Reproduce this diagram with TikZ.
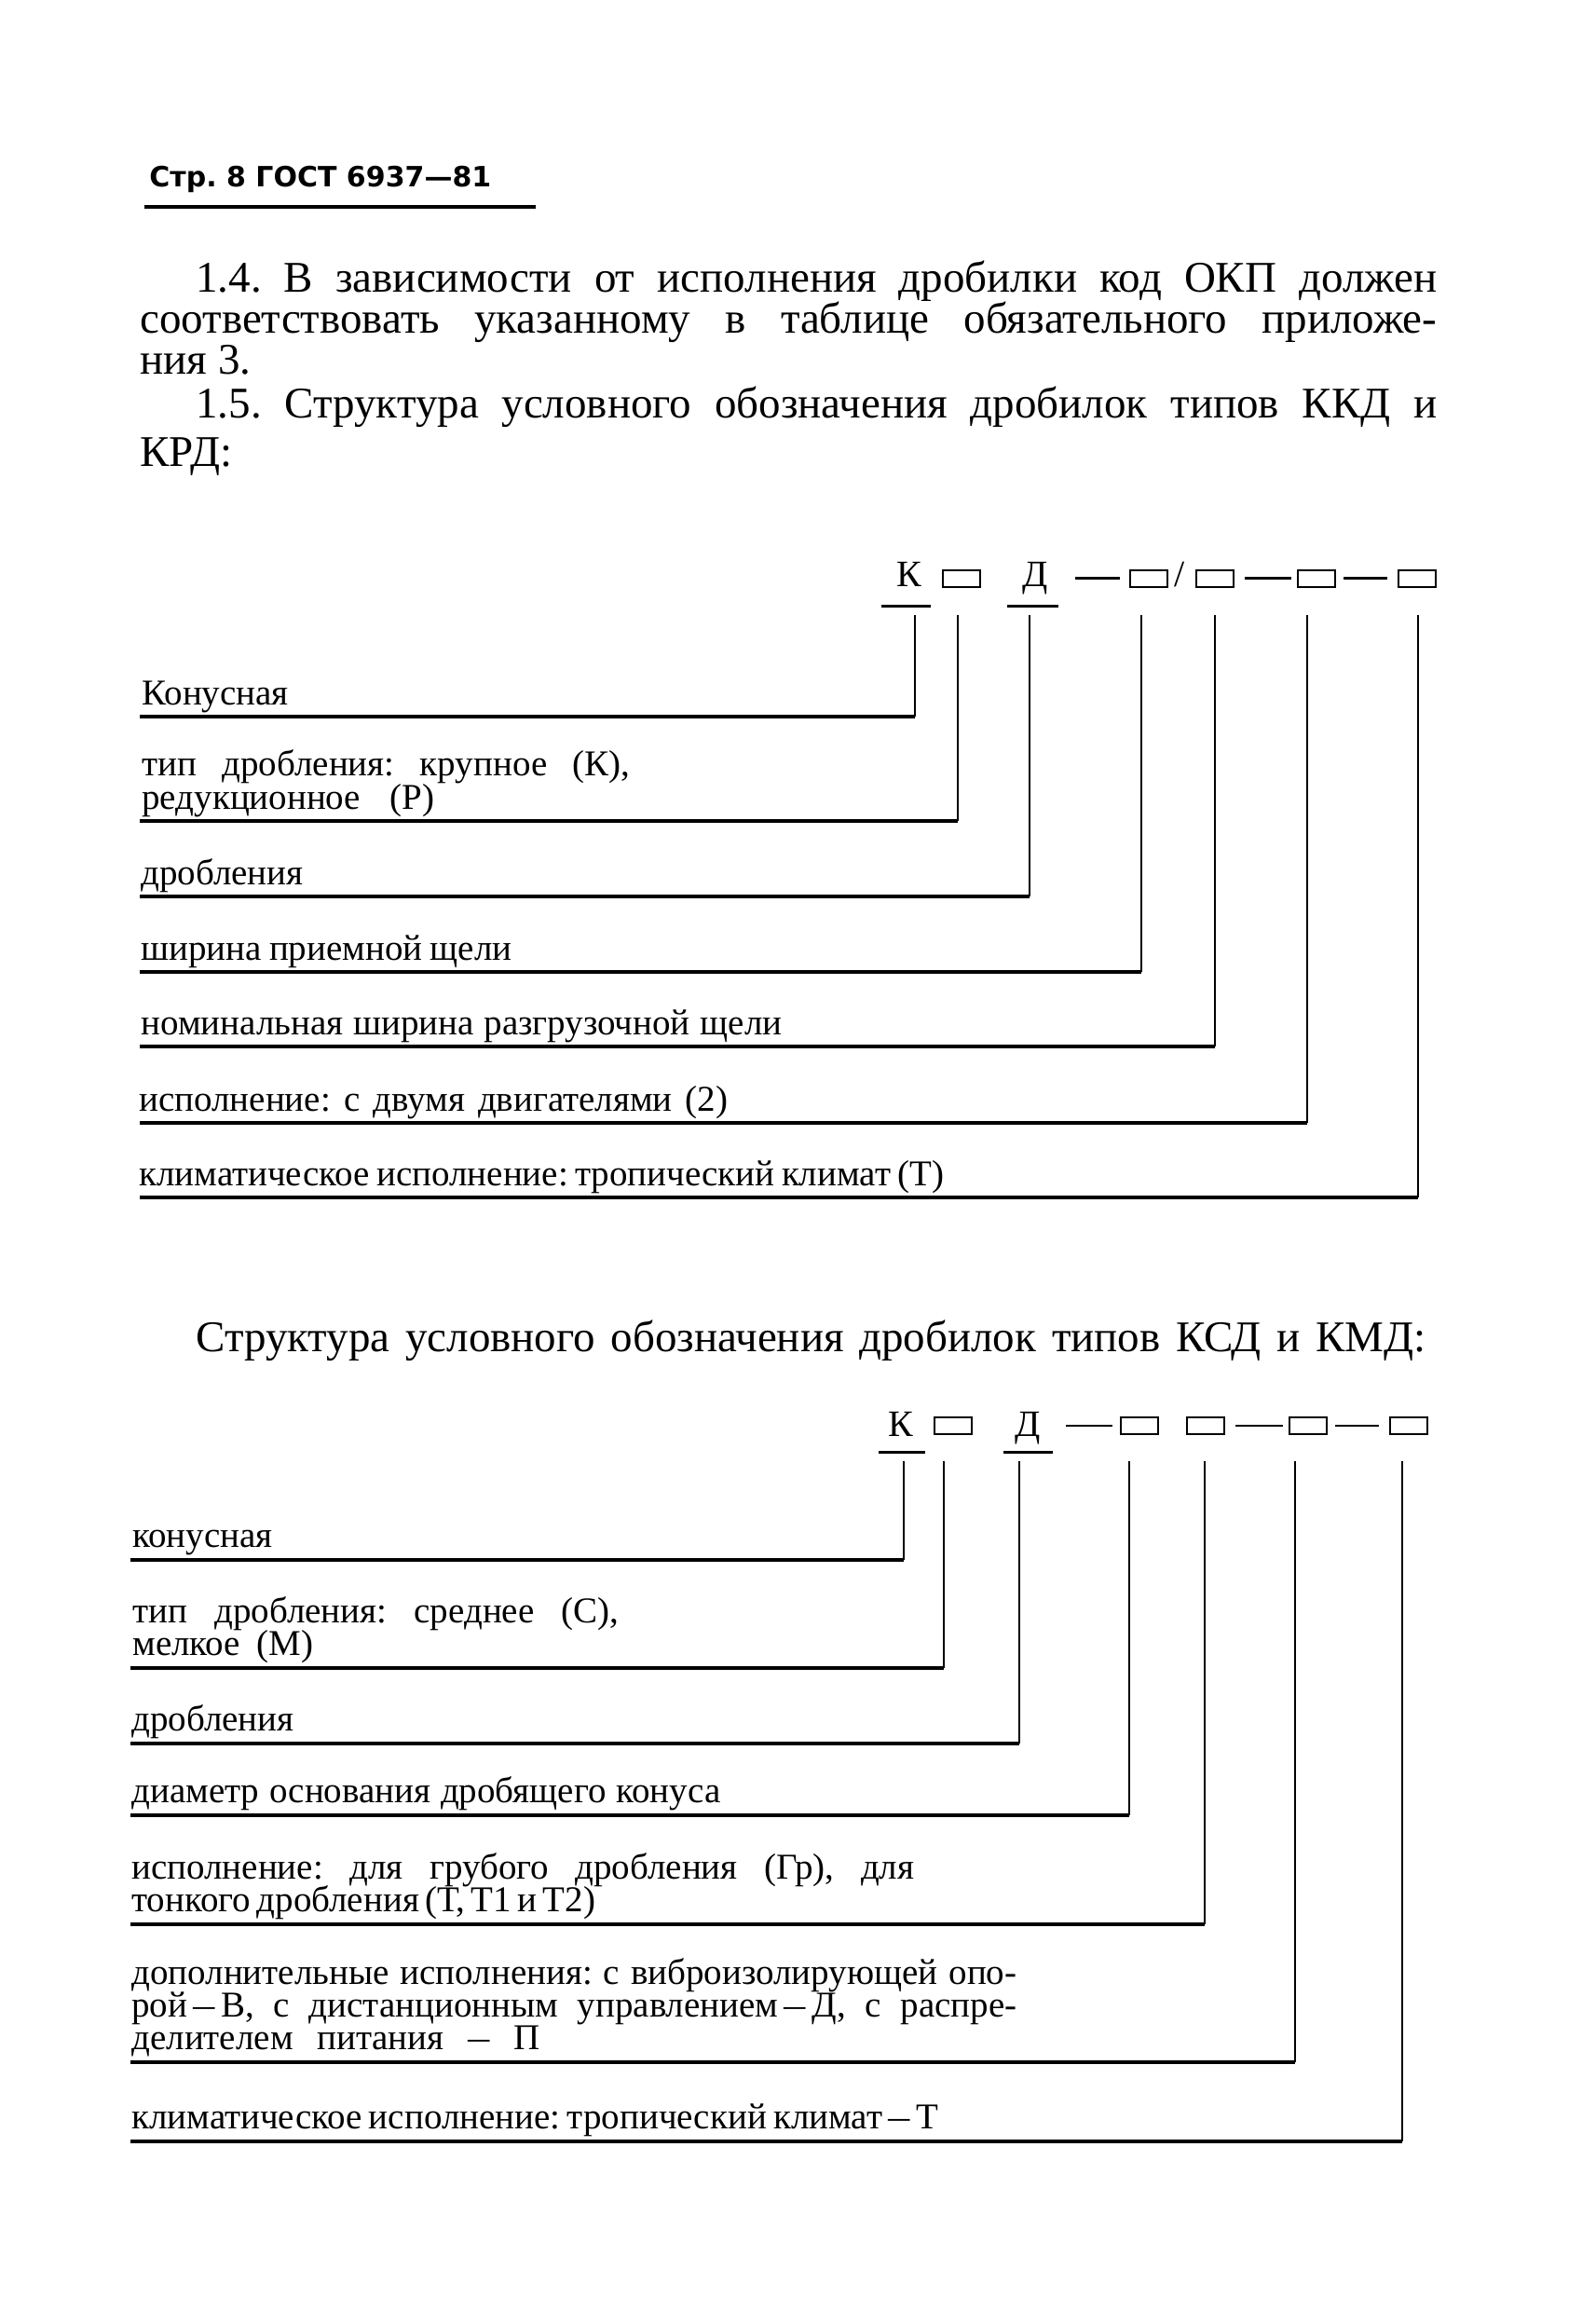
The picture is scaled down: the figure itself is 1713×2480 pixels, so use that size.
\documentclass[tikz,border=0pt]{standalone}
\usepackage{fontspec}
\usepackage{graphicx}
\setmainfont{Liberation Serif}
\newfontfamily\hdrfont{DejaVu Sans}
\usetikzlibrary{calc}
\newcommand{\jl}[2]{\makebox[#1][s]{#2}}
\newcommand{\dsh}{\scalebox{0.6}[1]{—}}
\begin{document}
\frenchspacing
\begin{tikzpicture}[x=0.5pt,y=-0.5pt,
  hdr/.style={anchor=base west,inner sep=0pt,font=\hdrfont\bfseries\fontsize{15}{16}\selectfont},
  para/.style={anchor=base west,inner sep=0pt,font=\fontsize{23.5}{22}\selectfont},
  lbl/.style={anchor=base west,inner sep=0pt,font=\fontsize{19.5}{18}\selectfont},
  code/.style={anchor=base,inner sep=0pt,font=\fontsize{20}{20}\selectfont},
  cbox/.style={draw,line width=1pt,minimum width=20pt,minimum height=9pt,inner sep=0pt},
  cdash/.style={line width=1.3pt},
  hline/.style={line width=1.8pt},
  vline/.style={line width=1.2pt},
  uline/.style={line width=1.5pt}]
\fill[white] (0,0) rectangle (1713,2480);
\useasboundingbox (0,0) rectangle (1713,2480);

% header
\node[hdr] (hdr) at (160,200) {Стр. 8 ГОСТ 6937—81};
\coordinate (hul) at (155,222); \coordinate (hur) at (575,222);
\draw[line width=2.2pt] (hul) -- (hur);

% paragraph
\node[para] (p1) at (210,313) {\jl{666pt}{1.4. В зависимости от исполнения дробилки код ОКП должен}};
\node[para] (p2) at (150,357) {\jl{696pt}{соответствовать указанному в таблице обязательного приложе-}};
\node[para] (p3) at (150,401) {ния 3.};
\node[para] (p4) at (210,448) {\jl{666pt}{1.5. Структура условного обозначения дробилок типов ККД и}};
\node[para] (p5) at (150,500) {КРД:};

% ---------- section 1 code line
\node[code] (k1) at (976,629) {К};
\node[cbox] (b11) at (1032,620.5) {};
\node[code] (d1) at (1111,629) {Д};
\node[cbox] (b12) at (1233,620.5) {};
\node[code] (sl1) at (1266,629) {/};
\node[cbox] (b13) at (1304,620.5) {};
\node[cbox] (b14) at (1413,620.5) {};
\node[cbox] (b15) at (1521,620.5) {};
\draw[cdash] ($(b12.west)+(-58,0)$) -- ($(b12.west)+(-10,0)$);
\draw[cdash,shorten <=5.5pt,shorten >=3pt] (b13.east) -- (b14.west);
\draw[cdash,shorten <=4pt,shorten >=5.5pt] (b14.east) -- (b15.west);
\coordinate (uk1a) at (946,650); \coordinate (uk1b) at (999,650);
\coordinate (ud1a) at (1081,650); \coordinate (ud1b) at (1136,650);
\draw[uline] (uk1a) -- (uk1b);
\draw[uline] (ud1a) -- (ud1b);

% section 1 leaders
\foreach \i/\x/\y in {1/982/769,2/1028/881,3/1105/962,4/1225/1043,5/1304/1123,6/1403/1205,7/1522/1285}{
  \coordinate (s1t\i) at (\x,660);
  \coordinate (s1c\i) at (\x,\y);
  \coordinate (s1l\i) at (150,\y);
  \draw[vline] (s1t\i) -- (s1c\i);
  \draw[hline] (s1c\i) -- (s1l\i);
}
\node[lbl] (l11) at (152,756) {Конусная};
\node[lbl] (l12a) at (152,832) {\jl{262pt}{тип дробления: крупное (К),}};
\node[lbl] (l12b) at (152,868) {\jl{157pt}{редукционное (Р)}};
\node[lbl] (l13) at (151,949) {дробления};
\node[lbl] (l14) at (151,1030) {\jl{199pt}{ширина приемной щели}};
\node[lbl] (l15) at (151,1110) {\jl{344pt}{номинальная ширина разгрузочной щели}};
\node[lbl] (l16) at (149,1192) {\jl{316pt}{исполнение: с двумя двигателями (2)}};
\node[lbl] (l17) at (149,1272) {\jl{432pt}{климатическое исполнение: тропический климат (Т)}};

% ---------- section 2 title
\node[para] (t2) at (210,1450) {\jl{660pt}{Структура условного обозначения дробилок типов КСД и КМД:}};

% section 2 code line
\node[code] (k2) at (967,1541) {К};
\node[cbox] (b21) at (1023,1530) {};
\node[code] (d2) at (1103,1541) {Д};
\node[cbox] (b22) at (1223,1530) {};
\node[cbox] (b23) at (1294,1530) {};
\node[cbox] (b24) at (1404,1530) {};
\node[cbox] (b25) at (1512,1530) {};
\draw[cdash] ($(b22.west)+(-58,0)$) -- ($(b22.west)+(-8,0)$);
\draw[cdash,shorten <=5.5pt,shorten >=3pt] (b23.east) -- (b24.west);
\draw[cdash,shorten <=4pt,shorten >=5.5pt] (b24.east) -- (b25.west);
\coordinate (uk2a) at (943,1558); \coordinate (uk2b) at (993,1558);
\coordinate (ud2a) at (1077,1558); \coordinate (ud2b) at (1130,1558);
\draw[uline] (uk2a) -- (uk2b);
\draw[uline] (ud2a) -- (ud2b);

% section 2 leaders
\foreach \i/\x/\y in {1/970/1674,2/1013/1790,3/1094/1871,4/1212/1948,5/1293/2065,6/1390/2213,7/1505/2298}{
  \coordinate (s2t\i) at (\x,1568);
  \coordinate (s2c\i) at (\x,\y);
  \coordinate (s2l\i) at (140,\y);
  \draw[vline] (s2t\i) -- (s2c\i);
  \draw[hline] (s2c\i) -- (s2l\i);
}
\node[lbl] (l21) at (142,1660) {конусная};
\node[lbl] (l22a) at (142,1741) {\jl{261pt}{тип дробления: среднее (С),}};
\node[lbl] (l22b) at (142,1776) {\jl{97pt}{мелкое (М)}};
\node[lbl] (l23) at (141,1857) {дробления};
\node[lbl] (l24) at (141,1934) {\jl{316pt}{диаметр основания дробящего конуса}};
\node[lbl] (l25a) at (141,2016) {\jl{420pt}{исполнение: для грубого дробления (Гр), для}};
\node[lbl] (l25b) at (141,2051) {\jl{246pt}{тонкого дробления (Т, Т1 и Т2)}};
\node[lbl] (l26a) at (141,2129) {\jl{475pt}{дополнительные исполнения: с виброизолирующей опо-}};
\node[lbl] (l26b) at (141,2164) {\jl{475pt}{рой\,\dsh\,В, с дистанционным управлением\,\dsh\,Д, с распре-}};
\node[lbl] (l26c) at (141,2199) {\jl{219pt}{делителем питания \dsh{} П}};
\node[lbl] (l27) at (141,2284) {\jl{433pt}{климатическое исполнение: тропический климат\,\dsh\,Т}};
\end{tikzpicture}
\end{document}
